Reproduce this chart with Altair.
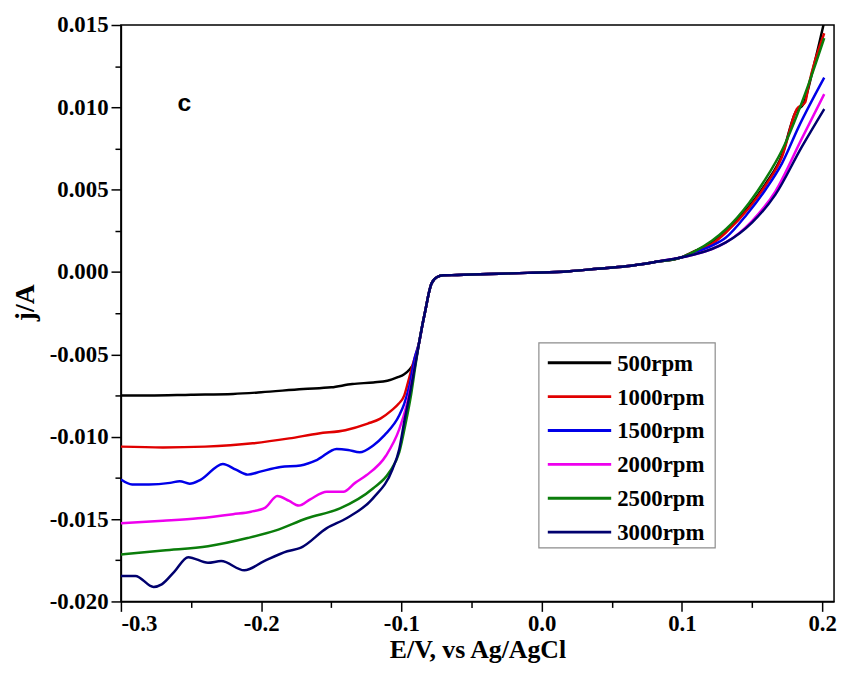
import altair as alt
import pandas as pd

# ---------------- data ----------------
LABELS = ["500rpm", "1000rpm", "1500rpm", "2000rpm", "2500rpm", "3000rpm"]
COLORS = ["#000000", "#e00000", "#0000e8", "#ee00ee", "#0b7d0b", "#00006e"]

# common kinetic plateau (all rotation rates coincide here)
E_mid = [-0.0874, -0.085, -0.0826, -0.0805, -0.0785, -0.0745, -0.07, -0.06, -0.05,
         -0.03, -0.01, 0.0, 0.02, 0.04, 0.06, 0.08, 0.1]
j_mid = [-0.0043, -0.0032, -0.0022, -0.0013, -0.0007, -0.0003, -0.0002, -0.00018, -0.00015,
         -0.0001, -0.00005, -0.00003, 0.00005, 0.0002, 0.00035, 0.0006, 0.0009]

# 500 rpm
E_500_left = [-0.3, -0.28, -0.25, -0.22, -0.2, -0.17, -0.15, -0.135, -0.12, -0.11, -0.103,
              -0.098, -0.094, -0.0915, -0.0897]
j_500_left = [-0.0075, -0.0075, -0.00745, -0.0074, -0.0073, -0.0071, -0.0070, -0.0068, -0.0067,
              -0.0066, -0.0064, -0.0062, -0.0059, -0.0056, -0.0053]
E_500_right = [0.11, 0.1214, 0.1314, 0.148, 0.16, 0.1714, 0.181, 0.1867, 0.194, 0.2015]
j_500_right = [0.0013, 0.0018, 0.0025, 0.0040, 0.0054, 0.0071, 0.0097, 0.0102, 0.0125, 0.0152]

# 1000 rpm
E_1000_left = [-0.3, -0.27, -0.24, -0.206, -0.18, -0.159, -0.14, -0.124, -0.115, -0.107,
               -0.102, -0.098, -0.095, -0.0915, -0.089]
j_1000_left = [-0.0106, -0.01065, -0.0106, -0.0104, -0.0101, -0.0098, -0.0096, -0.0092, -0.0089,
               -0.0084, -0.0080, -0.0075, -0.0066, -0.0055, -0.0048]
E_1000_right = [0.11, 0.1214, 0.1314, 0.148, 0.16, 0.1714, 0.182, 0.1879, 0.1903, 0.2015]
j_1000_right = [0.0013, 0.0017, 0.0024, 0.0039, 0.0053, 0.0070, 0.0099, 0.0103, 0.0113, 0.0145]

# 1500 rpm
E_1500_left = [-0.3, -0.292, -0.28, -0.265, -0.258, -0.251, -0.243, -0.2273, -0.218, -0.2097,
               -0.2, -0.1862, -0.172, -0.16, -0.1462, -0.1380, -0.1297, -0.1203, -0.112, -0.1015,
               -0.098, -0.094, -0.0905]
j_1500_left = [-0.0126, -0.0129, -0.0129, -0.0128, -0.0127, -0.01285, -0.0126, -0.01165, -0.0120,
               -0.0123, -0.0121, -0.01184, -0.01174, -0.0114, -0.01074, -0.0108, -0.01094, -0.01054,
               -0.0099, -0.0087, -0.0080, -0.0068, -0.0052]
E_1500_right = [0.11, 0.1214, 0.1314, 0.1463, 0.1596, 0.1714, 0.1832, 0.2015]
j_1500_right = [0.0012, 0.0016, 0.0021, 0.0035, 0.0050, 0.0066, 0.0088, 0.0118]

# 2000 rpm
E_2000_left = [-0.3, -0.27, -0.245, -0.22, -0.2073, -0.197, -0.1885, -0.18, -0.1732, -0.165,
               -0.1532, -0.1414, -0.133, -0.125, -0.1109, -0.1015, -0.096, -0.092]
j_2000_left = [-0.01525, -0.0151, -0.01495, -0.0147, -0.01455, -0.0143, -0.0136, -0.0139,
               -0.01418, -0.0138, -0.01334, -0.01334, -0.0128, -0.01234, -0.01114, -0.00954,
               -0.0080, -0.0064]
E_2000_right = [0.11, 0.1214, 0.1314, 0.15, 0.1667, 0.1855, 0.2015]
j_2000_right = [0.0011, 0.0014, 0.0018, 0.0031, 0.0049, 0.0081, 0.0108]

# 2500 rpm
E_2500_left = [-0.3, -0.27, -0.2379, -0.2097, -0.19, -0.1673, -0.1438, -0.1203, -0.1085,
               -0.1015, -0.097, -0.093, -0.09]
j_2500_left = [-0.01715, -0.0169, -0.01665, -0.01615, -0.0157, -0.01495, -0.01435, -0.01314,
               -0.01214, -0.01094, -0.0092, -0.0074, -0.0057]
E_2500_right = [0.11, 0.1214, 0.1314, 0.1479, 0.16, 0.1714, 0.1903, 0.2015]
j_2500_right = [0.0013, 0.0019, 0.0026, 0.0042, 0.0057, 0.0074, 0.0114, 0.0142]

# 3000 rpm
E_3000_left = [-0.3, -0.2897, -0.2767, -0.2709, -0.262, -0.252, -0.2379, -0.2285, -0.212,
               -0.1979, -0.1814, -0.172, -0.1532, -0.1391, -0.1203, -0.1062, -0.1015, -0.098,
               -0.094, -0.0905]
j_3000_left = [-0.01845, -0.01845, -0.01912, -0.01896, -0.0182, -0.01731, -0.01765, -0.01755,
               -0.01811, -0.01755, -0.01695, -0.01675, -0.01555, -0.01495, -0.01374, -0.01194,
               -0.01074, -0.0091, -0.0074, -0.0058]
E_3000_right = [0.11, 0.1214, 0.1314, 0.15, 0.1667, 0.1855, 0.2015]
j_3000_right = [0.0011, 0.0014, 0.0018, 0.0030, 0.0047, 0.0076, 0.0099]

X_TICKS = [-0.3, -0.25, -0.2, -0.15, -0.1, -0.05, 0.0, 0.05, 0.1, 0.15, 0.2]
Y_TICKS = [-0.02, -0.0175, -0.015, -0.0125, -0.01, -0.0075, -0.005, -0.0025, 0.0,
           0.0025, 0.005, 0.0075, 0.01, 0.0125, 0.015]
PANEL_LABEL = "c"
X_TITLE = "E/V, vs Ag/AgCl"
Y_TITLE = "j/A"

# ---------------- build table ----------------
series = [
    (E_500_left, j_500_left, E_500_right, j_500_right),
    (E_1000_left, j_1000_left, E_1000_right, j_1000_right),
    (E_1500_left, j_1500_left, E_1500_right, j_1500_right),
    (E_2000_left, j_2000_left, E_2000_right, j_2000_right),
    (E_2500_left, j_2500_left, E_2500_right, j_2500_right),
    (E_3000_left, j_3000_left, E_3000_right, j_3000_right),
]
rows = []
for lab, (el, jl, er, jr) in zip(LABELS, series):
    E_all = list(el)
    j_all = list(jl)
    for e, jv in zip(E_mid, j_mid):
        if e > E_all[-1]:
            E_all.append(e)
            j_all.append(jv)
    E_all += er
    j_all += jr
    for k, (e, jv) in enumerate(zip(E_all, j_all)):
        rows.append({"E": e, "j": jv, "rpm": lab, "k": k})
df = pd.DataFrame(rows)

SERIF = "Liberation Serif"

x_major = "abs(datum.value*10 - round(datum.value*10)) < 0.001"
y_major = "abs(datum.value*200 - round(datum.value*200)) < 0.001"

x_enc = alt.X(
    "E:Q",
    scale=alt.Scale(domain=[-0.3, 0.2085], nice=False, zero=False),
    axis=alt.Axis(
        title=X_TITLE,
        values=X_TICKS,
        labelExpr=f"({x_major}) ? ((datum.value < -0.00001 ? '-' : '') + format(abs(datum.value), '.1f')) : ''",
        tickSize=alt.condition(x_major, alt.value(10), alt.value(6)),
        labelPadding=1,
        titlePadding=2,
        titleFontSize=26,
    ),
)
y_enc = alt.Y(
    "j:Q",
    scale=alt.Scale(domain=[-0.02, 0.015], nice=False, zero=False),
    axis=alt.Axis(
        title=Y_TITLE,
        values=Y_TICKS,
        labelExpr=f"({y_major}) ? ((datum.value < -0.000001 ? '-' : '') + format(abs(datum.value), '.3f')) : ''",
        tickSize=alt.condition(y_major, alt.value(10), alt.value(6)),
        labelPadding=3,
        titlePadding=10,
        titleY=280,
    ),
)

layers = []
for lab, col in zip(LABELS, COLORS):
    layers.append(
        alt.Chart(df)
        .transform_filter(alt.datum.rpm == lab)
        .mark_line(color=col, strokeWidth=2.5, clip=True, interpolate="monotone")
        .encode(x=x_enc, y=y_enc, order="k:Q")
    )

# panel label
layers.append(
    alt.Chart(pd.DataFrame({"t": [PANEL_LABEL]}))
    .mark_text(font="Liberation Sans", fontWeight="bold", fontSize=25, align="center",
               baseline="middle", color="black")
    .encode(x=alt.value(64), y=alt.value(79), text="t:N")
)

# legend box
layers.append(
    alt.Chart(pd.DataFrame({"t": [0]}))
    .mark_rect(fill="white", stroke="#8c8c8c", strokeWidth=1.2)
    .encode(x=alt.value(422), x2=alt.value(600), y=alt.value(321), y2=alt.value(528))
)
for i, (lab, col) in enumerate(zip(LABELS, COLORS)):
    yy = 341 + 34.2 * i
    one = alt.Chart(pd.DataFrame({"rpm": [lab]}))
    layers.append(
        one.mark_rule(color=col, strokeWidth=3)
        .encode(x=alt.value(431), x2=alt.value(495), y=alt.value(yy))
    )
    layers.append(
        one.mark_text(font=SERIF, fontWeight="bold", fontSize=23, align="left",
                      baseline="middle", color="black", dy=1)
        .encode(x=alt.value(501), y=alt.value(yy), text="rpm:N")
    )

chart = (
    alt.layer(*layers)
    .properties(
        width=720,
        height=582,
        autosize=alt.AutoSizeParams(type="none"),
        padding={"left": 114, "top": 14, "right": 4, "bottom": 62},
    )
    .configure_view(stroke="black", strokeWidth=1.5)
    .configure_axis(
        grid=False,
        domainColor="black",
        domainWidth=1.5,
        tickColor="black",
        tickWidth=1.5,
        labelFont=SERIF,
        labelFontWeight="bold",
        labelFontSize=23,
        labelColor="black",
        titleFont=SERIF,
        titleFontWeight="bold",
        titleFontSize=28,
        titleColor="black",
    )
)

chart.save("out.html", embed_options={"renderer": "svg", "actions": False})
